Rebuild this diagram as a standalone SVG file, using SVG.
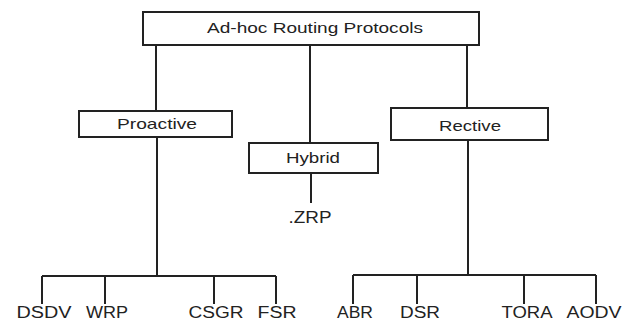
<svg xmlns="http://www.w3.org/2000/svg" width="635" height="322" viewBox="0 0 635 322">
<style>
.box{fill:#fff;stroke:#222;stroke-width:2}
.ln{stroke:#222;stroke-width:2;fill:none}
.t{font-family:"Liberation Sans",Arial,sans-serif;fill:#222;text-anchor:middle}
.m{font-size:15px}
.b{font-size:17px}
.s{font-size:16px}
</style>
<rect width="635" height="322" fill="#fff"/>
<g id="connectors">
<path class="ln" d="M156 45V111M310 45V143M467 45V108"/>
<path class="ln" d="M157 137V276M42 276H276M42 276V304M105 276V304M214 276V304M276 276V304"/>
<path class="ln" d="M311 173V203"/>
<path class="ln" d="M468 140V275M353 275H596M353 275V304M417 275V304M524 275V304M596 275V304"/>
</g>
<g id="root"><rect class="box" x="143" y="12" width="336" height="33"/><text class="t m" x="315" y="33" textLength="216" lengthAdjust="spacingAndGlyphs">Ad-hoc Routing Protocols</text></g>
<g id="proactive"><rect class="box" x="79" y="111" width="153" height="26"/><text class="t m" x="157" y="129" textLength="80" lengthAdjust="spacingAndGlyphs">Proactive</text></g>
<g id="hybrid"><rect class="box" x="249" y="143" width="129" height="30"/><text class="t m" x="313" y="163" textLength="54" lengthAdjust="spacingAndGlyphs">Hybrid</text></g>
<g id="rective"><rect class="box" x="391" y="108" width="157" height="32"/><text class="t m" x="470" y="131" textLength="62" lengthAdjust="spacingAndGlyphs">Rective</text></g>
<g id="zrp"><text class="t b" x="310" y="223" textLength="43" lengthAdjust="spacingAndGlyphs">.ZRP</text></g>
<g id="dsdv"><text class="t s" x="44" y="318" textLength="55" lengthAdjust="spacingAndGlyphs">DSDV</text></g>
<g id="wrp"><text class="t s" x="107" y="318" textLength="42" lengthAdjust="spacingAndGlyphs">WRP</text></g>
<g id="csgr"><text class="t s" x="216" y="318" textLength="55" lengthAdjust="spacingAndGlyphs">CSGR</text></g>
<g id="fsr"><text class="t s" x="277" y="318" textLength="39" lengthAdjust="spacingAndGlyphs">FSR</text></g>
<g id="abr"><text class="t s" x="355" y="318" textLength="36" lengthAdjust="spacingAndGlyphs">ABR</text></g>
<g id="dsr"><text class="t s" x="420" y="318" textLength="40" lengthAdjust="spacingAndGlyphs">DSR</text></g>
<g id="tora"><text class="t s" x="527" y="318" textLength="51" lengthAdjust="spacingAndGlyphs">TORA</text></g>
<g id="aodv"><text class="t s" x="594" y="318" textLength="55" lengthAdjust="spacingAndGlyphs">AODV</text></g>
</svg>
